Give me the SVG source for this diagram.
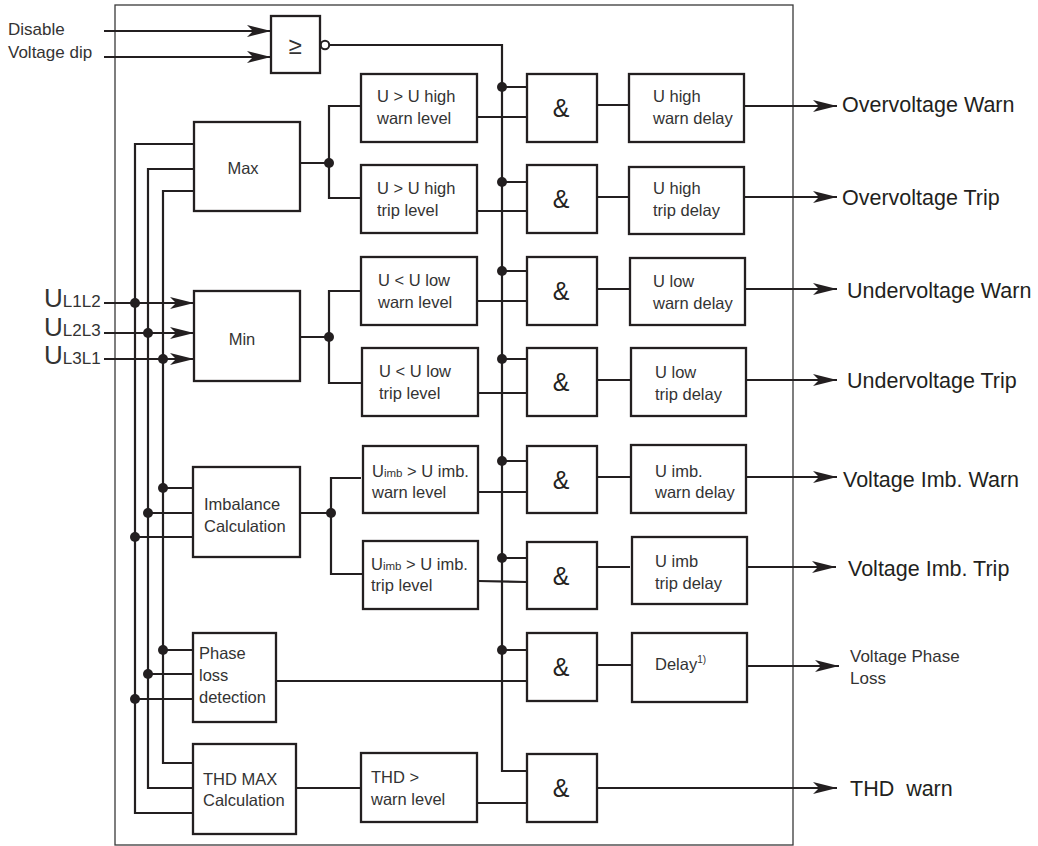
<svg xmlns="http://www.w3.org/2000/svg" width="1038" height="846" viewBox="0 0 1038 846">
<style>
.box{fill:#fff;stroke:#231f20;stroke-width:2.3}
.frame{fill:none;stroke:#3a3a3a;stroke-width:1.3}
.ln{fill:none;stroke:#231f20;stroke-width:2.2}
.arr{fill:none;stroke:#231f20;stroke-width:2.2;marker-end:url(#ah)}
.dot{fill:#231f20}
text{font-family:"Liberation Sans",Arial,sans-serif;fill:#333}
.t{font-size:16.5px}
.amp{font-size:25px;text-anchor:middle;fill:#231f20}
.out{font-size:21.5px;fill:#231f20}
.in{font-size:17px}
.sm{font-size:11.5px}
.ul{font-size:26px}
.ul tspan{font-size:17px}
</style>
<defs>
<marker id="ah" viewBox="0 0 24 12" refX="24" refY="6" markerWidth="24" markerHeight="12" markerUnits="userSpaceOnUse" orient="auto">
<path d="M0,0 L24,6 L0,12 L6,6 Z" fill="#231f20"/>
</marker>
</defs>
<rect class="frame" x="115" y="5" width="678" height="840"/>

<g id="connectors">
<path class="arr" d="M104,31 H271"/>
<path class="arr" d="M104,57 H271"/>
<path class="ln" d="M329,45 H502 V771 H527"/>
<path class="arr" d="M104,303 H194"/>
<path class="arr" d="M104,333 H194"/>
<path class="arr" d="M104,359 H194"/>
<path class="ln" d="M194,144 H135 V813 H194"/>
<path class="ln" d="M194,169 H148 V788 H194"/>
<path class="ln" d="M194,191 H163 V763 H194"/>
<path class="ln" d="M163,488 H194 M148,513 H194 M135,537 H194"/>
<path class="ln" d="M163,650 H193 M148,674 H193 M135,699 H193"/>
<path class="ln" d="M300,163 H329 M361,106 H329 V198 H361"/>
<path class="ln" d="M300,337 H329 M361,291 H329 V383 H361"/>
<path class="ln" d="M300,513 H331 M361,478 H331 V574 H363"/>
<path class="ln" d="M502,87 H527 M502,182 H527 M502,271 H527 M502,359 H527 M502,461 H527 M502,558 H527 M502,650 H527"/>
<path class="ln" d="M477,117 H527 M477,211 H527 M477,301 H527 M477,393 H527 M477,492 H527 M478,581 L527,582 M276,681 H527 M477,803 H527 M296,788 H361"/>
<path class="ln" d="M597,105 H630 M597,197 H630 M597,289 H630 M597,380 H630 M597,477 H630 M597,567 H630 M597,665 H632"/>
<path class="arr" d="M745,106 H837"/>
<path class="arr" d="M745,197 H837"/>
<path class="arr" d="M745,289 H837"/>
<path class="arr" d="M745,380 H837"/>
<path class="arr" d="M745,477 H837"/>
<path class="arr" d="M747,567 H836"/>
<path class="arr" d="M747,666 H839"/>
<path class="arr" d="M597,788 H837"/>
<g class="dot">
<circle cx="502" cy="87" r="5"/><circle cx="502" cy="182" r="5"/><circle cx="502" cy="271" r="5"/><circle cx="502" cy="359" r="5"/><circle cx="502" cy="461" r="5"/><circle cx="502" cy="558" r="5"/><circle cx="502" cy="650" r="5"/>
<circle cx="329" cy="163" r="5"/><circle cx="329" cy="337" r="5"/><circle cx="331" cy="513" r="5"/>
<circle cx="135" cy="303" r="5"/><circle cx="148" cy="333" r="5"/><circle cx="163" cy="359" r="5"/>
<circle cx="163" cy="488" r="5"/><circle cx="148" cy="513" r="5"/><circle cx="135" cy="537" r="5"/>
<circle cx="163" cy="650" r="5"/><circle cx="148" cy="674" r="5"/><circle cx="135" cy="699" r="5"/>
</g>
</g>

<g id="inputs">
<text class="in" x="8" y="35">Disable</text>
<text class="in" x="8" y="58">Voltage dip</text>
<text class="ul" x="44" y="307">U<tspan>L1L2</tspan></text>
<text class="ul" x="44" y="336">U<tspan>L2L3</tspan></text>
<text class="ul" x="44" y="364">U<tspan>L3L1</tspan></text>
</g>

<g id="or-gate">
<rect class="box" x="271" y="16" width="49" height="57"/>
<text x="295" y="54" font-size="24" text-anchor="middle" fill="#231f20">≥</text>
<circle cx="325" cy="45" r="4.2" fill="#fff" stroke="#231f20" stroke-width="2"/>
</g>

<g id="max"><rect class="box" x="194" y="122" width="106" height="89"/><text class="t" x="243" y="174" text-anchor="middle">Max</text></g>
<g id="min"><rect class="box" x="194" y="291" width="106" height="90"/><text class="t" x="242" y="345" text-anchor="middle">Min</text></g>
<g id="imbalance"><rect class="box" x="193" y="467" width="107" height="90"/><text class="t" x="204" y="510">Imbalance</text><text class="t" x="204" y="532">Calculation</text></g>
<g id="phaseloss"><rect class="box" x="193" y="633" width="83" height="89"/><text class="t" x="199" y="659">Phase</text><text class="t" x="199" y="681">loss</text><text class="t" x="199" y="703">detection</text></g>
<g id="thdmax"><rect class="box" x="193" y="744" width="103" height="90"/><text class="t" x="203" y="785">THD MAX</text><text class="t" x="203" y="806">Calculation</text></g>

<g id="lvl1"><rect class="box" x="361" y="74" width="116" height="68"/><text class="t" x="377" y="102">U &gt; U high</text><text class="t" x="377" y="124">warn level</text></g>
<g id="lvl2"><rect class="box" x="361" y="165" width="116" height="68"/><text class="t" x="377" y="194">U &gt; U high</text><text class="t" x="377" y="216">trip level</text></g>
<g id="lvl3"><rect class="box" x="361" y="257" width="116" height="68"/><text class="t" x="378" y="286">U &lt; U low</text><text class="t" x="378" y="308">warn level</text></g>
<g id="lvl4"><rect class="box" x="362" y="348" width="116" height="68"/><text class="t" x="379" y="377">U &lt; U low</text><text class="t" x="379" y="399">trip level</text></g>
<g id="lvl5"><rect class="box" x="363" y="446" width="115" height="67"/><text class="t" x="372" y="477">U<tspan class="sm">imb</tspan> &gt; U imb.</text><text class="t" x="372" y="498">warn level</text></g>
<g id="lvl6"><rect class="box" x="363" y="541" width="115" height="68"/><text class="t" x="371" y="570">U<tspan class="sm">imb</tspan> &gt; U imb.</text><text class="t" x="371" y="591">trip level</text></g>
<g id="lvl8"><rect class="box" x="361" y="753" width="116" height="69"/><text class="t" x="371" y="783">THD &gt;</text><text class="t" x="371" y="805">warn level</text></g>

<g id="and1"><rect class="box" x="527" y="74" width="70" height="68"/><text class="amp" x="561" y="117">&amp;</text></g>
<g id="and2"><rect class="box" x="527" y="165" width="70" height="68"/><text class="amp" x="561" y="208">&amp;</text></g>
<g id="and3"><rect class="box" x="527" y="257" width="70" height="68"/><text class="amp" x="561" y="300">&amp;</text></g>
<g id="and4"><rect class="box" x="527" y="348" width="70" height="68"/><text class="amp" x="561" y="391">&amp;</text></g>
<g id="and5"><rect class="box" x="527" y="446" width="70" height="67"/><text class="amp" x="561" y="489">&amp;</text></g>
<g id="and6"><rect class="box" x="527" y="542" width="70" height="67"/><text class="amp" x="561" y="585">&amp;</text></g>
<g id="and7"><rect class="box" x="527" y="633" width="70" height="68"/><text class="amp" x="561" y="676">&amp;</text></g>
<g id="and8"><rect class="box" x="527" y="754" width="70" height="68"/><text class="amp" x="561" y="797">&amp;</text></g>

<g id="dly1"><rect class="box" x="629" y="74" width="115" height="68"/><text class="t" x="653" y="102">U high</text><text class="t" x="653" y="124">warn delay</text></g>
<g id="dly2"><rect class="box" x="629" y="167" width="115" height="67"/><text class="t" x="653" y="194">U high</text><text class="t" x="653" y="216">trip delay</text></g>
<g id="dly3"><rect class="box" x="630" y="258" width="115" height="67"/><text class="t" x="653" y="287">U low</text><text class="t" x="653" y="309">warn delay</text></g>
<g id="dly4"><rect class="box" x="631" y="348" width="115" height="68"/><text class="t" x="655" y="378">U low</text><text class="t" x="655" y="400">trip delay</text></g>
<g id="dly5"><rect class="box" x="631" y="445" width="115" height="68"/><text class="t" x="655" y="477">U imb.</text><text class="t" x="655" y="498">warn delay</text></g>
<g id="dly6"><rect class="box" x="632" y="537" width="115" height="67"/><text class="t" x="655" y="567">U imb</text><text class="t" x="655" y="589">trip delay</text></g>
<g id="dly7"><rect class="box" x="632" y="633" width="115" height="69"/><text class="t" x="655" y="670">Delay<tspan font-size="10" dy="-7">1)</tspan></text></g>

<g id="outputs">
<text class="out" x="842" y="112">Overvoltage Warn</text>
<text class="out" x="842" y="205">Overvoltage Trip</text>
<text class="out" x="847" y="298">Undervoltage Warn</text>
<text class="out" x="847" y="388">Undervoltage Trip</text>
<text class="out" x="843" y="487">Voltage Imb. Warn</text>
<text class="out" x="848" y="576">Voltage Imb. Trip</text>
<text class="in" x="850" y="662">Voltage Phase</text>
<text class="in" x="850" y="684">Loss</text>
<text class="out" x="850" y="796" style="white-space:pre">THD  warn</text>
</g>
</svg>
